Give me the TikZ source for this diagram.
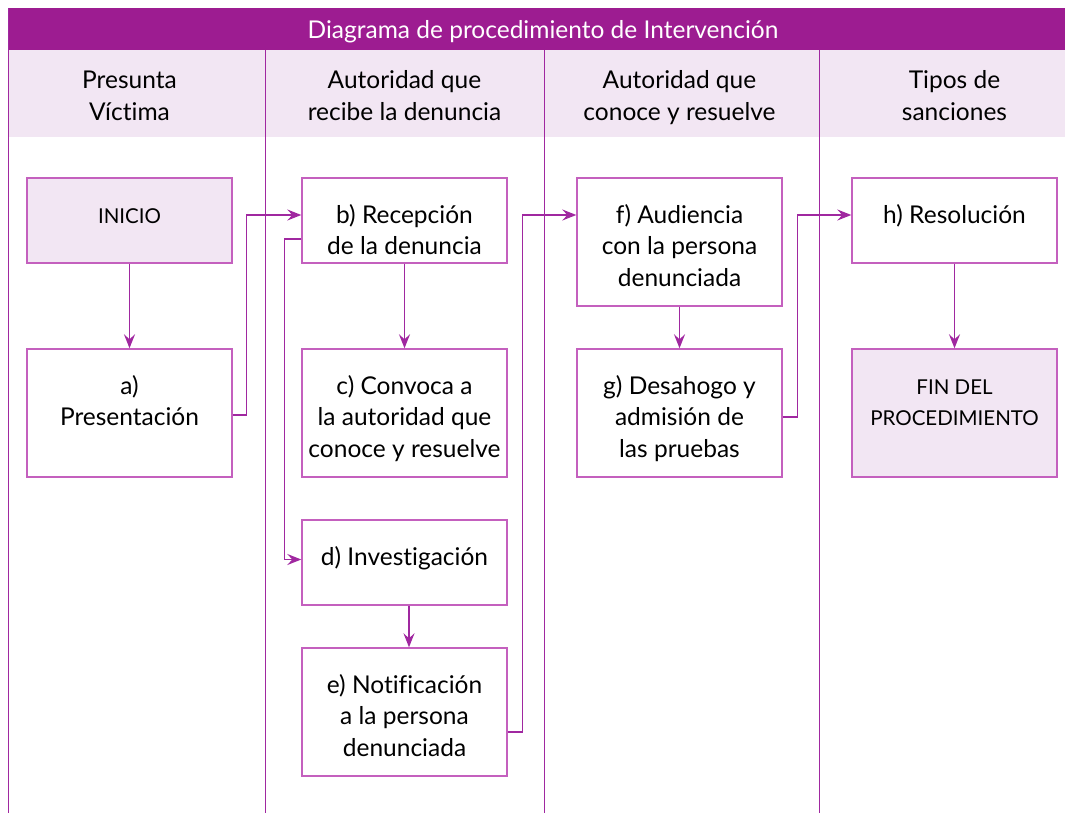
\documentclass[tikz,border=0pt]{standalone}
\usepackage{fontspec}
\setmainfont{Lato}[Ligatures=NoCommon]
\usetikzlibrary{arrows.meta}
\definecolor{barpurple}{RGB}{157,28,145}
\definecolor{lightpink}{RGB}{242,230,243}
\definecolor{boxborder}{RGB}{196,96,190}
\definecolor{linepurple}{RGB}{160,40,160}
\tikzset{
  box/.style={draw=boxborder, line width=1.4pt, minimum width=205pt, inner sep=0pt},
  boxs/.style={box, minimum height=85pt},
  boxl/.style={box, minimum height=128pt},
  txt/.style={align=center, inner sep=0pt, anchor=north, font=\fontsize{24.5}{31.5}\selectfont},
  stxt/.style={align=center, inner sep=0pt, anchor=north, font=\fontsize{20.5}{31.5}\selectfont},
  hdr/.style={align=center, inner sep=0pt, font=\fontsize{24.5}{31.5}\selectfont},
  conn/.style={draw=linepurple, line width=1.5pt, -{Stealth[length=14pt,width=11pt,inset=5pt]}},
  col/.style={draw=linepurple, line width=0.9pt}
}
\begin{document}
\begin{tikzpicture}[x=1pt,y=-1pt]
\useasboundingbox (0,0) rectangle (1065,813);
% title bar and header row
\fill[barpurple] (8,8) rectangle (1065,50);
\fill[lightpink] (8,50) rectangle (1065,137);
\node[hdr, text=white] (title) at (543,31.5) {Diagrama de procedimiento de Intervención};
% column lines
\draw[col] (8,8) -- (8,813);
\draw[col] (265,50) -- (265,813);
\draw[col] (544,50) -- (544,813);
\draw[col] (819,50) -- (819,813);
% headers
\node[hdr] (h1) at (129.5,98) {\strut Presunta\\\strut Víctima};
\node[hdr] (h2) at (404.5,98) {\strut Autoridad que\\\strut recibe la denuncia};
\node[hdr] (h3) at (679.5,98) {\strut Autoridad que\\\strut conoce y resuelve};
\node[hdr] (h4) at (954.5,98) {\strut Tipos de\\\strut sanciones};
% boxes
\node[boxs, fill=lightpink] (ini) at (129.5,220.5) {};
\node[boxl] (a) at (129.5,413) {};
\node[boxs] (b) at (404.5,220.5) {};
\node[boxl] (c) at (404.5,413) {};
\node[boxs] (d) at (404.5,562.5) {};
\node[boxl] (e) at (404.5,712) {};
\node[boxl] (f) at (679.5,242) {};
\node[boxl] (g) at (679.5,413) {};
\node[boxs] (h) at (954.5,220.5) {};
\node[boxl, fill=lightpink] (fin) at (954.5,413) {};
% texts
\node[stxt] (tini) at ([yshift=-23.5]ini.north) {\strut INICIO};
\node[txt] (ta) at ([yshift=-23.5]a.north) {\strut a)\\Presentación};
\node[txt] (tb) at ([yshift=-23.5]b.north) {\strut b) Recepción\\de la denuncia};
\node[txt] (tc) at ([yshift=-23.5]c.north) {\strut c) Convoca a\\la autoridad que\\conoce y resuelve};
\node[txt] (td) at ([yshift=-23.5]d.north) {\strut d) Investigación};
\node[txt] (te) at ([yshift=-23.5]e.north) {\strut e) Notificación\\a la persona\\denunciada};
\node[txt] (tf) at ([yshift=-23.5]f.north) {\strut f) Audiencia\\con la persona\\denunciada};
\node[txt] (tg) at ([yshift=-23.5]g.north) {\strut g) Desahogo y\\admisión de\\las pruebas};
\node[txt] (th) at ([yshift=-23.5]h.north) {\strut h) Resolución};
\node[stxt] (tfin) at ([yshift=-23.5]fin.north) {\strut FIN DEL\\PROCEDIMIENTO};
% connectors
\draw[conn] (ini.south) -- (a.north);
\draw[conn] ([yshift=-2]a.east) -- ++(14,0) |- ([yshift=5.5]b.west);
\draw[conn] (b.south) -- (c.north);
\draw[conn] ([yshift=-18.5]b.west) -- ++(-17,0) |- ([yshift=3]d.west);
\draw[conn] ([xshift=4.5]d.south) -- ([xshift=4.5]e.north);
\draw[conn] ([yshift=-20]e.east) -- ++(15,0) |- ([yshift=27]f.west);
\draw[conn] (f.south) -- (g.north);
\draw[conn] ([yshift=-4]g.east) -- ++(15,0) |- ([yshift=5.5]h.west);
\draw[conn] (h.south) -- (fin.north);
\end{tikzpicture}
\end{document}
